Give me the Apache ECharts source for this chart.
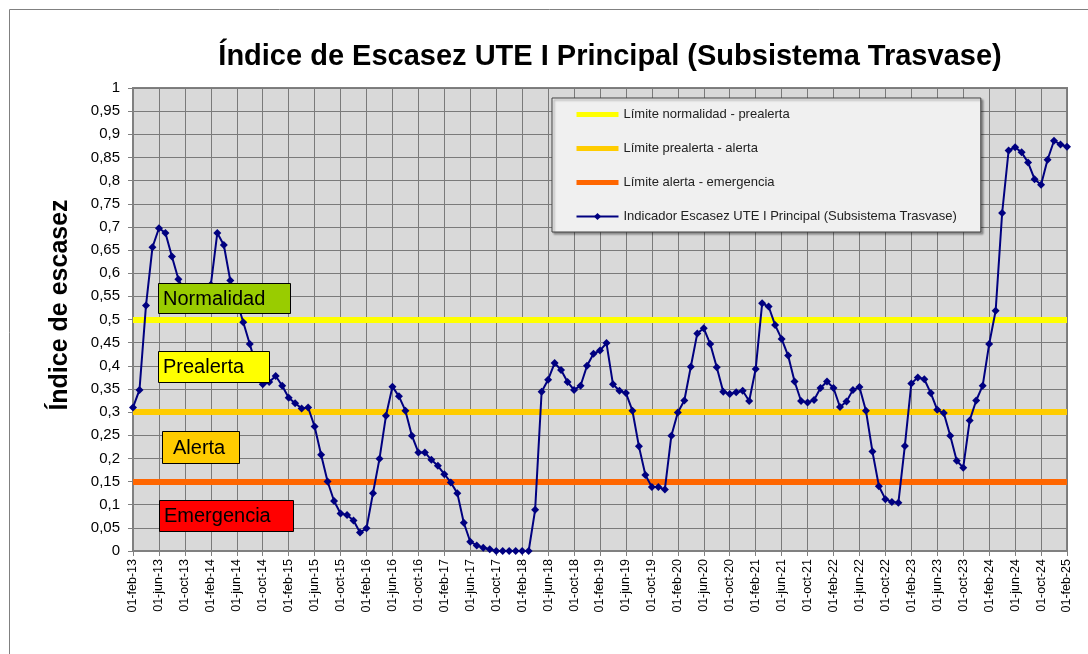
<!DOCTYPE html>
<html>
<head>
<meta charset="utf-8">
<script src="https://cdn.jsdelivr.net/npm/echarts@6/dist/echarts.min.js"></script>
<style>
  html, body { margin: 0; padding: 0; background: #fff; }
  #main { width: 1088px; height: 654px; }
</style>
</head>
<body>
<div id="main"></div>
<script>
// meses (etiquetas del eje)
var monthNames = ['ene', 'feb', 'mar', 'abr', 'may', 'jun', 'jul', 'ago', 'sep', 'oct', 'nov', 'dic'];
var startYear = 2013, startMonth = 1, monthCount = 145;

// indicador de escasez, mensual desde 01-feb-13
var indicador = [
  0.310, 0.348, 0.530, 0.656, 0.697, 0.687, 0.636, 0.587, 0.560, 0.550, 0.550, 0.560,
  0.575, 0.687, 0.661, 0.584, 0.540, 0.494, 0.447, 0.400, 0.360, 0.365, 0.378, 0.357,
  0.331, 0.319, 0.308, 0.310, 0.269, 0.208, 0.150, 0.108, 0.081, 0.078, 0.066, 0.040,
  0.049, 0.125, 0.199, 0.292, 0.355, 0.334, 0.303, 0.249, 0.213, 0.213, 0.197, 0.184,
  0.166, 0.148, 0.125, 0.061, 0.020, 0.012, 0.007, 0.004, 0.000, 0.000, 0.000, 0.000,
  0.000, 0.000, 0.089, 0.344, 0.370, 0.406, 0.391, 0.365, 0.348, 0.357, 0.400, 0.426,
  0.433, 0.449, 0.360, 0.346, 0.341, 0.303, 0.226, 0.164, 0.138, 0.138, 0.133, 0.249,
  0.299, 0.325, 0.398, 0.470, 0.481, 0.447, 0.397, 0.344, 0.339, 0.343, 0.346, 0.324,
  0.393, 0.535, 0.528, 0.488, 0.458, 0.422, 0.366, 0.324, 0.321, 0.326, 0.352, 0.366,
  0.352, 0.311, 0.323, 0.348, 0.354, 0.303, 0.215, 0.140, 0.112, 0.106, 0.104, 0.227,
  0.362, 0.375, 0.371, 0.341, 0.305, 0.298, 0.249, 0.195, 0.180, 0.282, 0.325, 0.357,
  0.447, 0.519, 0.730, 0.865, 0.872, 0.861, 0.839, 0.803, 0.791, 0.845, 0.886, 0.878,
  0.873
];

// umbrales
var limiteNames = ['Límite normalidad - prealerta', 'Límite prealerta - alerta', 'Límite alerta - emergencia'];
var limiteValues = [0.5, 0.3, 0.15];
var limiteColors = ['#ffff00', '#ffcc00', '#ff6600'];

// cajas de estado
var estadoNames = ['Normalidad', 'Prealerta', 'Alerta', 'Emergencia'];
var estadoColors = ['#99cc00', '#ffff00', '#ffcc00', '#ff0000'];

var indicadorName = 'Indicador Escasez UTE I Principal (Subsistema Trasvase)';

var fechas = [];
for (var i = 0; i < monthCount; i++) {
  var m = (startMonth + i) % 12;
  var y = startYear + Math.floor((startMonth + i) / 12);
  fechas.push('01-' + monthNames[m] + '-' + String(y).slice(2));
}

var FONT = 'Liberation Sans, Arial, sans-serif';

var series = limiteNames.map(function (name, k) {
  return {
    name: name,
    type: 'line',
    data: [],
    symbol: 'none',
    z: 1,
    lineStyle: { color: limiteColors[k], width: 6 },
    itemStyle: { color: limiteColors[k] },
    markLine: {
      silent: true,
      symbol: ['none', 'none'],
      label: { show: false },
      lineStyle: { color: limiteColors[k], width: 6, type: 'solid' },
      data: [{ yAxis: limiteValues[k] }]
    }
  };
});
series.push({
  name: indicadorName,
  type: 'line',
  data: indicador,
  z: 5,
  symbol: 'diamond',
  symbolSize: 8,
  showAllSymbol: true,
  lineStyle: { color: '#000080', width: 2 },
  itemStyle: { color: '#000080' }
});

var legendData = limiteNames.map(function (name) {
  return { name: name, itemStyle: { opacity: 0 }, lineStyle: { width: 5 } };
});
legendData.push({ name: indicadorName, lineStyle: { width: 2 } });

// cajas de texto (Normalidad, Prealerta...)
var boxes = [
  { x: 158, y: 283, w: 132, h: 30, tx: 5 },
  { x: 158, y: 351, w: 111, h: 31, tx: 5 },
  { x: 162, y: 431, w: 77, h: 32, tx: 11 },
  { x: 159, y: 500, w: 134, h: 31, tx: 5 }
];
var graphics = [{
  type: 'rect', silent: true,
  shape: { x: 9.5, y: 9.5, width: 1200, height: 700 },
  style: { fill: 'none', stroke: '#808080', lineWidth: 1 }
}, {
  type: 'text', x: 60, y: 305, rotation: Math.PI / 2, silent: true,
  style: { text: 'Índice de escasez', fill: '#000', font: 'bold 25px ' + FONT,
           align: 'center', verticalAlign: 'middle' }
}];
boxes.forEach(function (b, k) {
  graphics.push({
    type: 'rect', silent: true, z: 100,
    shape: { x: b.x + 0.5, y: b.y + 0.5, width: b.w, height: b.h },
    style: { fill: estadoColors[k], stroke: '#000', lineWidth: 1 }
  }, {
    type: 'text', silent: true, z: 101,
    x: b.x + b.tx, y: b.y + b.h / 2 + 1,
    style: { text: estadoNames[k], fill: '#000', font: '20px ' + FONT,
             align: 'left', verticalAlign: 'middle' }
  });
});

var myChart = echarts.init(document.getElementById('main'));
var option = {
  animation: false,
  textStyle: { fontFamily: FONT },
  title: {
    text: 'Índice de Escasez UTE I Principal (Subsistema Trasvase)',
    left: 605, top: 37, textAlign: 'center',
    textStyle: { fontSize: 29, fontWeight: 'bold', color: '#000', fontFamily: FONT }
  },
  legend: {
    orient: 'vertical',
    left: 552, top: 98,
    padding: [10, 24, 9, 22],
    itemGap: 21,
    itemWidth: 42,
    itemHeight: 9,
    backgroundColor: '#f0f0f0',
    borderColor: '#404040',
    borderWidth: 1,
    shadowColor: 'rgba(0,0,0,0.35)',
    shadowBlur: 2,
    shadowOffsetX: 2,
    shadowOffsetY: 2,
    selectedMode: false,
    textStyle: { fontSize: 13, color: '#222', fontFamily: FONT },
    data: legendData
  },
  grid: {
    left: 133, right: 21, top: 88, bottom: 103,
    show: true, backgroundColor: '#d9d9d9', borderColor: '#808080', borderWidth: 2
  },
  xAxis: {
    type: 'category',
    data: fechas,
    boundaryGap: false,
    axisLine: { lineStyle: { color: '#808080', width: 2 } },
    axisTick: { interval: 3, length: 5, lineStyle: { color: '#808080' } },
    axisLabel: { interval: 3, rotate: 90, fontSize: 12.5, color: '#000', margin: 8 },
    splitLine: { show: true, interval: 3, lineStyle: { color: '#7a7a7a', width: 1 } }
  },
  yAxis: {
    type: 'value',
    min: 0, max: 1, interval: 0.05,
    axisLine: { show: true, lineStyle: { color: '#808080', width: 2 } },
    axisTick: { show: true, length: 5, lineStyle: { color: '#808080' } },
    axisLabel: {
      fontSize: 15, color: '#000', margin: 13,
      formatter: function (v) { return String(+v.toFixed(2)).replace('.', ','); }
    },
    splitLine: { show: true, lineStyle: { color: '#7a7a7a', width: 1 } }
  },
  graphic: graphics,
  series: series
};
myChart.setOption(option);
</script>
</body>
</html>
